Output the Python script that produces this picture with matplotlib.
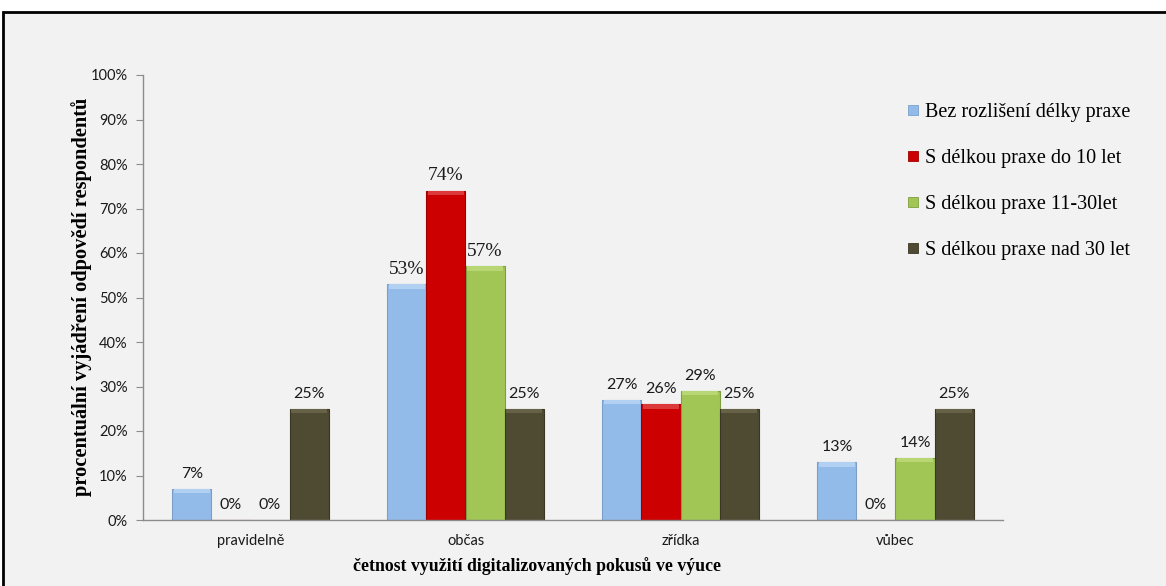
import matplotlib
matplotlib.use("Agg")
import matplotlib.pyplot as plt
from matplotlib.patches import Rectangle
from matplotlib.lines import Line2D

# Data
categories = ["pravidelně", "občas", "zřídka", "vůbec"]
series_names = [
    "Bez rozlišení délky praxe",
    "S délkou praxe do 10 let",
    "S délkou praxe 11-30let",
    "S délkou praxe nad 30 let",
]
bez_rozliseni = [7, 53, 27, 13]
do_10_let = [0, 74, 26, 0]
od_11_do_30_let = [0, 57, 29, 14]
nad_30_let = [25, 25, 25, 25]
series_values = [bez_rozliseni, do_10_let, od_11_do_30_let, nad_30_let]
y_ticks = [0, 10, 20, 30, 40, 50, 60, 70, 80, 90, 100]

# Styling
colors = ["#93bbea", "#cc0000", "#a2c655", "#4f4a32"]
highlights = ["#b2d0f2", "#dc3a3a", "#b8d673", "#676147"]
edges = ["#7b9fc9", "#9e0000", "#7f9e3f", "#3a3624"]
serif_labels = {(1, 0), (1, 1), (1, 2)}

W, H = 1166, 586
fig = plt.figure(figsize=(W / 100, H / 100), dpi=100)
fig.patch.set_facecolor("white")

# chart area panel with a dark frame
panel = Rectangle((3 / W, -0.02), 1.05, 1 - 12 / H + 0.02, transform=fig.transFigure,
                  facecolor="#f2f2f2", edgecolor="black", linewidth=2, zorder=-10)
fig.patches.append(panel)

ax = fig.add_axes([143 / W, 1 - 520 / H, 860 / W, 445 / H])
ax.set_zorder(5)
ax.set_facecolor("none")
ax.set_xlim(-0.5, len(categories) - 0.5)
ax.set_ylim(0, 100)

bar_w = 0.1814
n = len(series_values)
for s, vals in enumerate(series_values):
    xs = [i + (s - (n - 1) / 2) * bar_w for i in range(len(categories))]
    ax.bar(xs, vals, width=bar_w, color=colors[s], edgecolor=edges[s],
           linewidth=0.8, zorder=2, label=series_names[s])
    # bevel highlight at the top of each bar
    for x, v in zip(xs, vals):
        if v > 0:
            cap = min(1.0, v)
            ax.bar(x, cap, bottom=v - cap, width=bar_w * 0.9, color=highlights[s],
                   linewidth=0, zorder=3)
    for i, (x, v) in enumerate(zip(xs, vals)):
        if (i, s) in serif_labels:
            fam, size = "Liberation Serif", 14
        else:
            fam, size = "Lato", 11.5
        ax.annotate(f"{v}%", (x, v), xytext=(0, 10.8), textcoords="offset points",
                    ha="center", va="center", fontsize=size, family=fam,
                    color="#1a1a1a", zorder=4)

# axes styling
for side in ("top", "right"):
    ax.spines[side].set_visible(False)
ax.spines["left"].set_color("#8c8c8c")
ax.spines["bottom"].set_color("#8c8c8c")
ax.spines["left"].set_linewidth(1)
ax.spines["bottom"].set_linewidth(1)

ax.set_yticks(y_ticks)
ax.set_yticklabels([f"{t}%" for t in y_ticks], family="Lato", fontsize=10.5, color="#1a1a1a")
ax.tick_params(axis="y", length=5, color="#8c8c8c", pad=6)
ax.set_xticks(range(len(categories)))
ax.set_xticklabels(categories, family="Lato", fontsize=10.5, color="#1a1a1a")
ax.tick_params(axis="x", length=0, pad=10)

ax.set_xlabel("četnost využití digitalizovaných pokusů ve výuce", family="Liberation Serif",
              fontsize=12.8, fontweight="bold", va="center")
ax.xaxis.set_label_coords((537 - 143) / 860, (520 - 566) / 445)
ax.set_ylabel("procentuální vyjádření odpovědí respondentů", family="Liberation Serif",
              fontsize=14.7, fontweight="bold", va="center")
ax.yaxis.set_label_coords((82 - 143) / 860, (520 - 297) / 445)

handles = [Line2D([], [], marker="s", linestyle="none", markersize=6.5,
                  markerfacecolor=colors[s], markeredgecolor=edges[s], markeredgewidth=0.6)
           for s in range(n)]
fig.legend(handles, series_names, loc="upper left", bbox_to_anchor=(906 / W, 1 - 103 / H),
           frameon=False, prop={"family": "Liberation Serif", "size": 14.5},
           handlelength=0.7, handletextpad=0.25, labelspacing=1.33, borderaxespad=0,
           borderpad=0)

fig.savefig("out.png", dpi=100, facecolor=fig.get_facecolor())
